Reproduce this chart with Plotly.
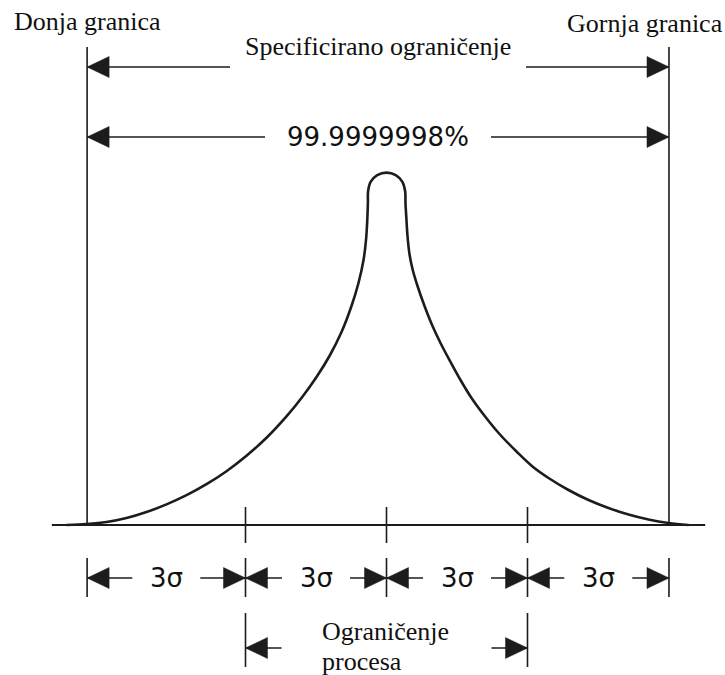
import plotly.graph_objects as go

# ---- horizontal positions in sigma units (process mean at 0) ----
spec_limits = [-6.37, 6.01]                 # lower / upper specification limit
sigma_ticks = [-3.0, 0.0, 3.0]              # marks on the base line
band_edges = [-6.37, -3.0, 0.0, 3.0, 6.01]  # 3σ bands under the curve
band_labels = ["3σ", "3σ", "3σ", "3σ"]
process_limits = [-3.0, 3.0]

# ---- distribution outline: sigma position and relative height ----
left_x = [-6.809, -6.383, -5.957, -5.532, -5.106, -4.681, -4.255, -3.830,
          -3.404, -2.979, -2.553, -2.128, -1.809, -1.489, -1.213, -0.957,
          -0.745, -0.596, -0.489, -0.436, -0.409, -0.396, -0.391, -0.338,
          -0.196]
left_y = [0, 1, 3, 7, 13, 20.6, 29.8, 40.8,
          53.8, 69.2, 87.2, 108.6, 127, 148, 169, 193,
          219, 242, 265, 285, 305, 322, 334, 343.2,
          349.9]
peak_x, peak_y = 0.0, 352.4
right_x = [0.196, 0.338, 0.396, 0.404, 0.421, 0.447, 0.489, 0.553, 0.660,
           0.809, 0.979, 1.149, 1.362, 1.574, 1.809, 2.106, 2.404, 2.766,
           3.106, 3.447, 3.872, 4.298, 4.723, 5.149, 5.574, 6.000, 6.426]
right_y = [349.9, 343.2, 334, 322, 308, 289, 271, 256, 239,
           219, 199, 182, 163, 145, 127, 108, 91, 73.5,
           58.5, 47, 35, 25, 17, 10.5, 5.5, 2, 0]

# ---- labels ----
lower_label = "Donja granica"
upper_label = "Gornja granica"
spec_label = "Specificirano ograničenje"
yield_label = "99.9999998%"
process_lines = ["Ograničenje", "procesa"]

# ---- drawing geometry ----
PX = 47.0                     # pixels per sigma
XR = [-386.5 / PX, 338.5 / PX]
YR = [-150, 525]
INK = "#1c1c1c"
LINE_W = 1.6
SERIF = "Liberation Serif, Times New Roman, serif"
SANS = "DejaVu Sans, Arial, sans-serif"

limit_top = 478
row_spec, row_yield = 458, 388
row_band, band_bar = -53, (-33, -72)
row_proc, proc_bar = -123, (-88, -142)
tick_half = 18
base_ext = [-7.12, 6.78]

head_len = 22 / PX
head_half = 10.5

shapes = []


def seg(x0, y0, x1, y1, w=LINE_W):
    shapes.append(dict(type="line", x0=x0, y0=y0, x1=x1, y1=y1,
                       xref="x", yref="y", line=dict(color=INK, width=w)))


def head(x_tip, y, direction):
    # filled triangle with its tip at x_tip, pointing left (-1) or right (+1)
    xb = x_tip - direction * head_len
    path = f"M {x_tip},{y} L {xb},{y + head_half} L {xb},{y - head_half} Z"
    shapes.append(dict(type="path", path=path, xref="x", yref="y",
                       fillcolor=INK, line=dict(color=INK, width=0.5)))


def dim_arrow(x_from, x_to, y, gap_px):
    # two-headed dimension line split around a centred label
    mid = (x_from + x_to) / 2
    g = gap_px / PX
    seg(x_from, y, mid - g, y)
    seg(mid + g, y, x_to, y)
    head(x_from, y, -1)
    head(x_to, y, +1)
    return mid


# base line and tick marks
seg(base_ext[0], 0, base_ext[1], 0, 2)
for t in sigma_ticks:
    seg(t, tick_half, t, -tick_half)

# specification limit lines
for s in spec_limits:
    seg(s, limit_top, s, 0)

# top dimension lines
mid_spec = dim_arrow(spec_limits[0], spec_limits[1], row_spec, 148)
mid_yield = dim_arrow(spec_limits[0], spec_limits[1], row_yield, 113)

# 3σ bands
for e in band_edges:
    seg(e, band_bar[0], e, band_bar[1])
band_mids = []
for a, b in zip(band_edges[:-1], band_edges[1:]):
    band_mids.append(dim_arrow(a, b, row_band, 34))

# process limits
for p in process_limits:
    seg(p, proc_bar[0], p, proc_bar[1])
stub = 36 / PX
seg(process_limits[0], row_proc, process_limits[0] + stub, row_proc)
seg(process_limits[1] - stub, row_proc, process_limits[1], row_proc)
head(process_limits[0], row_proc, -1)
head(process_limits[1], row_proc, +1)

curve_x = left_x + [peak_x] + right_x
curve_y = left_y + [peak_y] + right_y

fig = go.Figure()
fig.add_trace(go.Scatter(
    x=curve_x, y=curve_y, mode="lines",
    line=dict(color=INK, width=2.6, shape="spline", smoothing=1.0),
    hoverinfo="skip", showlegend=False))

serif_font = dict(family=SERIF, size=26, color="#111")
sans_font = dict(family=SANS, size=26, color="#111")

annotations = [
    dict(x=spec_limits[0], y=504, text=lower_label, xanchor="center",
         yanchor="middle", font=serif_font),
    dict(x=5.5, y=501.5, text=upper_label, xanchor="center",
         yanchor="middle", font=serif_font),
    dict(x=mid_spec, y=478.5, text=spec_label, xanchor="center",
         yanchor="middle", font=serif_font),
    dict(x=mid_yield, y=row_yield, text=yield_label, xanchor="center",
         yanchor="middle", font=sans_font),
    dict(x=-1.415, y=-106, text=process_lines[0], xanchor="left",
         yanchor="middle", font=serif_font),
    dict(x=-1.415, y=-136, text=process_lines[1], xanchor="left",
         yanchor="middle", font=serif_font),
]
for m, lab in zip(band_mids, band_labels):
    annotations.append(dict(x=m, y=row_band, text=lab, xanchor="center",
                            yanchor="middle", font=sans_font))
for a in annotations:
    a.update(xref="x", yref="y", showarrow=False)

fig.update_layout(
    width=725, height=675,
    margin=dict(l=0, r=0, t=0, b=0),
    paper_bgcolor="white", plot_bgcolor="white",
    xaxis=dict(range=XR, visible=False, fixedrange=True),
    yaxis=dict(range=YR, visible=False, fixedrange=True),
    shapes=shapes, annotations=annotations,
    showlegend=False,
)

fig.write_html("out.html")
